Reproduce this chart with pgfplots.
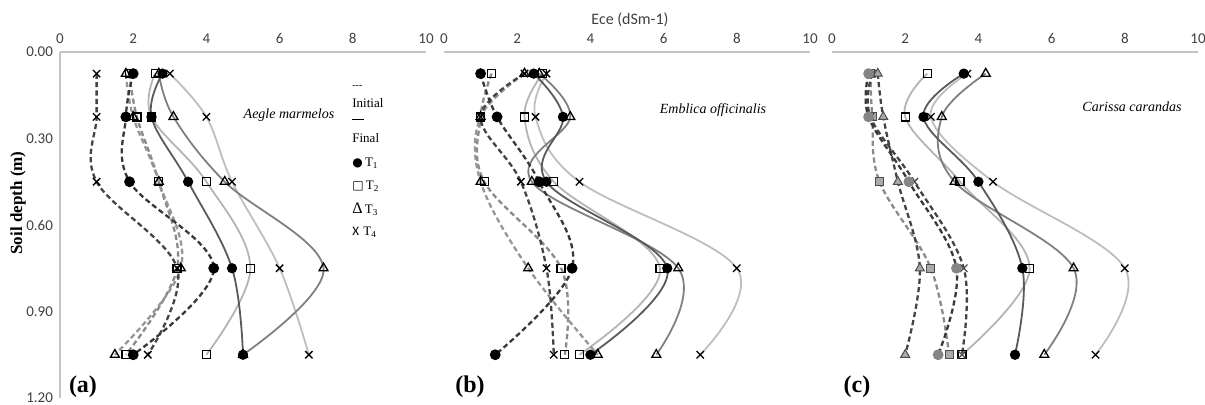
\documentclass[border=0pt]{standalone}
\usepackage{fontspec}
\setmainfont{Liberation Serif}
\newfontfamily\calfont{Carlito}
\newfontfamily\djv{DejaVu Sans}
\usepackage{pgfplots}
\pgfplotsset{compat=1.18}

\definecolor{axgray}{HTML}{C4C4C4}
\definecolor{tickgray}{HTML}{404040}
\definecolor{ci1}{HTML}{383838}
\definecolor{ci2}{HTML}{8A8A8A}
\definecolor{ci3}{HTML}{969696}
\definecolor{ci4}{HTML}{444444}
\definecolor{cf1}{HTML}{5A5A5A}
\definecolor{cf2}{HTML}{B4B4B4}
\definecolor{cf3}{HTML}{808080}
\definecolor{cf4}{HTML}{BEBEBE}
\definecolor{mgray}{HTML}{858585}

\pgfplotsset{
  panel/.style={width=183pt,height=173pt,scale only axis,anchor=south west,
    xmin=0,xmax=10,ymin=0,ymax=1.2,y dir=reverse,
    axis x line=top, axis line style={-,draw=axgray,line width=0.8pt},
    xtick={0,2,4,6,8,10}, xticklabels={0,2,4,6,8,10},
    major tick length=0pt,
    xticklabel style={font=\calfont\fontsize{7.5}{9}\selectfont, text=tickgray, yshift=0.5pt},
    yticklabel style={font=\calfont\fontsize{7.5}{9}\selectfont, text=tickgray},
    clip=false},
  ini/.style={line width=1.15pt, dash pattern=on 2.6pt off 1.6pt, smooth, tension=0.6},
  fin/.style={line width=0.9pt, solid, smooth, tension=0.6},
  m1/.style={mark=*, mark size=2.1pt, mark options={solid, fill=black, draw=black}},
  m2/.style={mark=square, mark size=2.0pt, mark options={solid, draw=black, line width=0.65pt}},
  m3/.style={mark=triangle, mark size=2.6pt, mark options={solid, draw=black, line width=0.65pt}},
  m4/.style={mark=x, mark size=2.6pt, mark options={solid, draw=black, line width=0.65pt}},
  g1/.style={mark=*, mark size=2.1pt, mark options={solid, fill=mgray, draw=mgray}},
  g2/.style={mark=square*, mark size=2.0pt, mark options={solid, fill=mgray!70, draw=black!70, line width=0.5pt}},
  g3/.style={mark=triangle*, mark size=2.6pt, mark options={solid, fill=mgray!70, draw=black!70, line width=0.5pt}},
  g4/.style={mark=x, mark size=2.6pt, mark options={solid, draw=black!70, line width=0.65pt}},
}

\begin{document}
\begin{tikzpicture}
\useasboundingbox (0,0) rectangle (602.5pt,202.5pt);

% ---------------- (a) Aegle marmelos ----------------
\begin{axis}[panel, at={(30pt,3.5pt)},
  axis y line=left, y axis line style={-},
  every outer y axis line/.append style={-},
  ytick={0,0.3,0.6,0.9,1.2},
  yticklabels={0.00,0.30,0.60,0.90,1.20}]
\addplot[fin, cf4, m4] coordinates {(3.0,0.075) (4.0,0.225) (4.7,0.45) (6.0,0.75) (6.8,1.05)};
\addplot[fin, cf2, m2] coordinates {(2.6,0.075) (2.5,0.225) (4.0,0.45) (5.2,0.75) (4.0,1.05)};
\addplot[fin, cf3, m3] coordinates {(2.7,0.075) (3.1,0.225) (4.5,0.45) (7.2,0.75) (5.0,1.05)};
\addplot[fin, cf1, m1] coordinates {(2.8,0.075) (2.5,0.225) (3.5,0.45) (4.7,0.75) (5.0,1.05)};
\addplot[ini, ci2, m2] coordinates {(1.9,0.075) (2.1,0.225) (2.7,0.45) (3.2,0.75) (1.8,1.05)};
\addplot[ini, ci3, m3] coordinates {(1.8,0.075) (2.0,0.225) (2.7,0.45) (3.3,0.75) (1.5,1.05)};
\addplot[ini, ci4, m4] coordinates {(1.0,0.075) (1.0,0.225) (1.0,0.45) (3.2,0.75) (2.4,1.05)};
\addplot[ini, ci1, m1] coordinates {(2.0,0.075) (1.8,0.225) (1.9,0.45) (4.2,0.75) (2.0,1.05)};
\end{axis}

% ---------------- (b) Emblica officinalis ----------------
\begin{axis}[panel, at={(222pt,3.5pt)}, axis y line=none, ytick=\empty]
\addplot[fin, cf4, m4] coordinates {(2.8,0.075) (2.5,0.225) (3.7,0.45) (8.0,0.75) (7.0,1.05)};
\addplot[fin, cf2, m2] coordinates {(2.7,0.075) (2.2,0.225) (3.0,0.45) (5.9,0.75) (3.7,1.05)};
\addplot[fin, cf3, m3] coordinates {(2.6,0.075) (3.45,0.225) (2.4,0.45) (6.4,0.75) (5.8,1.05)};
\addplot[fin, cf1, m1] coordinates {(2.45,0.075) (3.25,0.225) (2.8,0.45) (6.1,0.75) (4.0,1.05)};
\addplot[ini, ci2, m2] coordinates {(1.3,0.075) (1.0,0.225) (1.1,0.45) (3.2,0.75) (3.3,1.05)};
\addplot[ini, ci3, m3] coordinates {(2.2,0.075) (1.0,0.225) (1.0,0.45) (2.3,0.75) (4.2,1.05)};
\addplot[ini, ci4, m4] coordinates {(2.2,0.075) (1.0,0.225) (2.1,0.45) (2.8,0.75) (3.0,1.05)};
\addplot[ini, ci1, m1] coordinates {(1.0,0.075) (1.45,0.225) (2.6,0.45) (3.5,0.75) (1.4,1.05)};
\end{axis}

% ---------------- (c) Carissa carandas ----------------
\begin{axis}[panel, at={(416pt,3.5pt)}, axis y line=none, ytick=\empty]
\addplot[fin, cf4, m4] coordinates {(3.7,0.075) (2.7,0.225) (4.4,0.45) (8.0,0.75) (7.2,1.05)};
\addplot[fin, cf2, m2] coordinates {(2.6,0.075) (2.0,0.225) (3.5,0.45) (5.4,0.75) (3.55,1.05)};
\addplot[fin, cf3, m3] coordinates {(4.2,0.075) (3.0,0.225) (3.35,0.45) (6.6,0.75) (5.8,1.05)};
\addplot[fin, cf1, m1] coordinates {(3.6,0.075) (2.5,0.225) (4.0,0.45) (5.2,0.75) (5.0,1.05)};
\addplot[ini, ci2, g2] coordinates {(1.05,0.075) (1.1,0.225) (1.3,0.45) (2.7,0.75) (3.2,1.05)};
\addplot[ini, ci4, g3] coordinates {(1.25,0.075) (1.4,0.225) (1.8,0.45) (2.4,0.75) (2.0,1.05)};
\addplot[ini, ci4, g4] coordinates {(1.1,0.075) (1.05,0.225) (2.25,0.45) (3.6,0.75) (3.55,1.05)};
\addplot[ini, ci1, g1] coordinates {(1.0,0.075) (1.0,0.225) (2.1,0.45) (3.4,0.75) (2.9,1.05)};
\end{axis}

% titles and labels
\node[font=\calfont\fontsize{8}{9}\selectfont, text=tickgray] at (315pt,192.5pt) {Ece (dSm-1)};
\node[rotate=90, font=\bfseries\fontsize{8.5}{10}\selectfont] at (9pt,101pt) {Soil depth (m)};
\node[font=\bfseries\fontsize{12}{14}\selectfont] at (41.5pt,9pt) {(a)};
\node[font=\bfseries\fontsize{12}{14}\selectfont] at (235pt,9pt) {(b)};
\node[font=\bfseries\fontsize{12}{14}\selectfont] at (428.5pt,9pt) {(c)};
\node[font=\itshape\fontsize{7}{8}\selectfont] at (144.5pt,145pt) {Aegle marmelos};
\node[font=\itshape\fontsize{7}{8}\selectfont] at (356.5pt,147.5pt) {Emblica officinalis};
\node[font=\itshape\fontsize{7}{8}\selectfont] at (566pt,149pt) {Carissa carandas};

% legend (panel a)
\begin{scope}[every node/.style={anchor=west, inner sep=0pt, font=\fontsize{6.5}{7}\selectfont}]
\node at (176pt,159pt) {{\fontsize{5}{6}\selectfont -{}-{}-}};
\node at (176pt,151pt) {Initial};
\node at (176pt,142pt) {\rule[1.6pt]{6pt}{0.4pt}};
\node at (176pt,133.5pt) {Final};
\node at (176pt,121pt) {{\djv\fontsize{6}{7}\selectfont ●}\,T\textsubscript{1}};
\node at (176pt,109.5pt) {{\djv\fontsize{6}{7}\selectfont □}\,T\textsubscript{2}};
\node at (176pt,98pt) {{\fontsize{8}{8}\selectfont Δ}\,T\textsubscript{3}};
\node at (176pt,86.5pt) {{\calfont X}\,\,T\textsubscript{4}};
\end{scope}
\end{tikzpicture}
\end{document}
